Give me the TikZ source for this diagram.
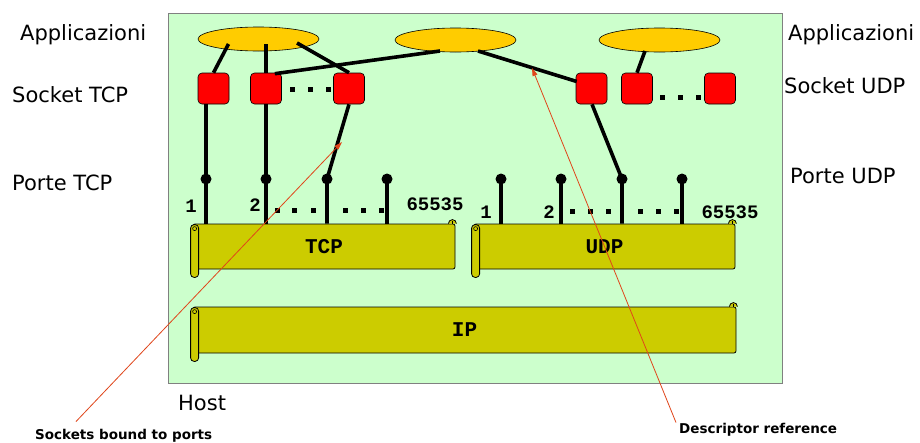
\documentclass[tikz,border=0pt]{standalone}
\usepackage{fontspec}
\setmainfont{DejaVu Sans}
\newfontfamily\monofam{Liberation Mono}
\usetikzlibrary{calc,shapes.geometric,arrows.meta}
\definecolor{hostgreen}{HTML}{CCFFCC}
\definecolor{appcol}{HTML}{FFCC00}
\definecolor{barcol}{HTML}{CCCC00}
\definecolor{refcol}{HTML}{E0451A}
\begin{document}
\begin{tikzpicture}[x=1pt,y=-1pt,
  lbl/.style={anchor=base west, inner sep=0pt, font=\fontsize{21}{25}\selectfont},
  app/.style={ellipse, draw=black, line width=0.6pt, fill=appcol, minimum width=121pt, minimum height=24pt, inner sep=0pt},
  sock/.style={draw=black, line width=0.6pt, fill=red, rounded corners=4pt, minimum size=31pt, inner sep=0pt},
  port/.style={circle, fill=black, minimum size=11pt, inner sep=0pt},
  wire/.style={line width=3.6pt},
  dotsq/.style={fill=black, minimum size=5pt, inner sep=0pt},
  num/.style={font=\monofam\bfseries\fontsize{19}{22}\selectfont, inner sep=0pt, anchor=center},
  bar/.style={draw=black, line width=0.8pt, fill=barcol, rounded corners=2pt, inner sep=0pt, font=\monofam\bfseries\fontsize{21}{24}\selectfont},
  roll/.style={draw=black, line width=0.8pt, fill=barcol, rounded corners=3.5pt},
  ref/.style={draw=refcol, line width=0.8pt, -{Triangle[length=8pt,width=5pt]}},
  note/.style={font=\bfseries\fontsize{13.5}{15}\selectfont, inner sep=0pt, anchor=base west}
]
\useasboundingbox (0,0) rectangle (920,442);
\fill[white] (0,0) rectangle (920,442);

% host
\node[draw=gray, line width=1pt, fill=hostgreen, minimum width=614pt, minimum height=370pt, inner sep=0pt] (host) at (475,198) {};

% side labels
\node[lbl] (appL) at (20,40) {Applicazioni};
\node[lbl] (sockL) at (12,102) {Socket TCP};
\node[lbl] (portL) at (12,190) {Porte TCP};
\node[lbl] (appR) at (788,40) {Applicazioni};
\node[lbl] (sockR) at (784,93) {Socket UDP};
\node[lbl] (portR) at (790,183) {Porte UDP};
\node[lbl] (hostL) at (178,410) {Host};

% bars
\node[bar, minimum width=262pt, minimum height=45pt] (tcp) at (324,246.5) {TCP};
\node[bar, minimum width=261pt, minimum height=45pt] (udp) at (604.5,246.5) {UDP};
\node[bar, minimum width=543pt, minimum height=46pt] (ip) at (464.5,330) {IP};
\foreach \b in {tcp,udp,ip}{
  \draw[roll] ($(\b.north west)+(-2,1)$) rectangle ($(\b.south west)+(6,8)$);
  \draw[line width=0.6pt] ($(\b.north west)+(2,5)$) circle[radius=2pt];
  \draw[line width=0.8pt, fill=barcol] ($(\b.north east)+(-7,0)$) arc[start angle=180, delta angle=-180, radius=4pt];
  \draw[line width=0.6pt] ($(\b.north east)+(-3,0)$) -- ++(0,-2.5);
}

% applications
\node[app] (e1) at (258.5,39) {};
\node[app] (e2) at (455.5,40) {};
\node[app] (e3) at (659.5,40) {};

% sockets
\node[sock] (s1) at (213.5,88.5) {};
\node[sock] (s2) at (266,88.5) {};
\node[sock] (s3) at (349,88.5) {};
\node[sock] (s4) at (591.5,88.5) {};
\node[sock] (s5) at (637,88.5) {};
\node[sock] (s6) at (720,88.5) {};

% ports
\node[port] (p1) at (206,179) {};
\node[port] (p2) at (266,179) {};
\node[port] (p3) at (327,179) {};
\node[port] (p4) at (387,179) {};
\node[port] (u1) at (501,179) {};
\node[port] (u2) at (561,179) {};
\node[port] (u3) at (622,179) {};
\node[port] (u4) at (682,179) {};

% app-socket wires
\draw[wire] ($(e1)+(-30,5)$) -- (s1.north);
\draw[wire] ($(e1)+(7.5,5)$) -- (s2.north);
\draw[wire] ($(e1)+(38.5,4)$) -- (s3.north);
\draw[wire] ($(e2)+(-15.5,11)$) -- ($(s2.north east)+(-7,1)$);
\draw[wire] ($(e2)+(22.5,11)$) -- ($(s4.west)+(1,-7)$);
\draw[wire] ($(e3)+(-14.5,11)$) -- (s5.north);

% socket-port wires and stems
\draw[wire] (s1.south -| p1) -- (p1.center) -- (p1 |- tcp.north);
\draw[wire] (s2.south) -- (p2.center) -- (p2 |- tcp.north);
\draw[wire] (s3.south) -- (p3.center) -- (p3 |- tcp.north);
\draw[wire] (p4.center) -- (p4 |- tcp.north);
\draw[wire] (u1.center) -- (u1 |- udp.north);
\draw[wire] (u2.center) -- (u2 |- udp.north);
\draw[wire] ($(s4.south)+(0.5,0)$) -- (u3.center) -- (u3 |- udp.north);
\draw[wire] (u4.center) -- (u4 |- udp.north);

% dots
\foreach \x in {292,310,328} \node[dotsq] at (\x,89) {};
\foreach \x in {662,680,698} \node[dotsq] at (\x,97) {};
\foreach \x in {277,294,313,345,363,381} \node[dotsq] at (\x,210) {};
\foreach \x in {572,590,608,640,658,676} \node[dotsq] at (\x,211) {};

% port numbers
\node[num] (n1) at (191,206) {1};
\node[num] (n2) at (255,205) {2};
\node[num] (n3) at (435,204.5) {65535};
\node[num] (m1) at (486,212) {1};
\node[num] (m2) at (549,212) {2};
\node[num] (m3) at (730,212.5) {65535};

% annotations
\node[note] (lab1) at (35,439) {Sockets bound to ports};
\node[note] (lab2) at (679,433) {Descriptor reference};
\coordinate (t1) at (342,142);
\coordinate (t2) at (532,68);
\draw[ref] ($(lab1.north west)+(41,-7)$) -- (t1);
\draw[ref] ($(lab2.north west)+(-3,0)$) -- (t2);
\end{tikzpicture}
\end{document}
